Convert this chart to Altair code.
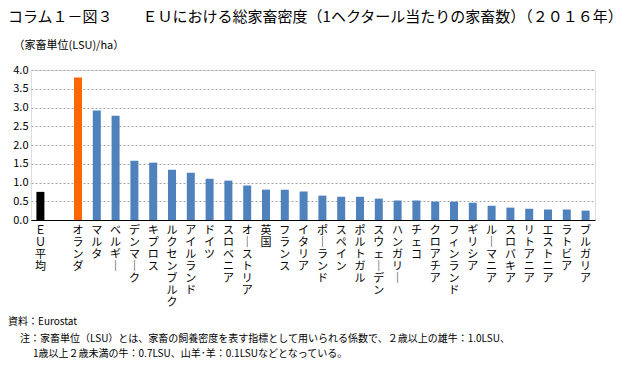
import altair as alt
import pandas as pd

countries = ["ＥＵ平均", " ", "オランダ", "マルタ", "ベルギー", "デンマーク", "キプロス",
             "ルクセンブルク", "アイルランド", "ドイツ", "スロベニア", "オーストリア", "英国",
             "フランス", "イタリア", "ポーランド", "スペイン", "ポルトガル", "スウェーデン",
             "ハンガリー", "チェコ", "クロアチア", "フィンランド", "ギリシア", "ルーマニア",
             "スロバキア", "リトアニア", "エストニア", "ラトビア", "ブルガリア"]
values = [0.75, None, 3.80, 2.92, 2.78, 1.58, 1.53,
          1.34, 1.26, 1.10, 1.05, 0.92, 0.81,
          0.81, 0.76, 0.65, 0.62, 0.62, 0.57,
          0.52, 0.52, 0.49, 0.49, 0.46, 0.38,
          0.33, 0.30, 0.28, 0.28, 0.25]
y_ticks = [0.0, 0.5, 1.0, 1.5, 2.0, 2.5, 3.0, 3.5, 4.0]

title_text = "コラム１－図３　　ＥＵにおける総家畜密度（1ヘクタール当たりの家畜数）（２０１６年）"
y_title = "（家畜単位(LSU)/ha）"
notes = ["資料：Eurostat",
         "注：家畜単位（LSU）とは、家畜の飼養密度を表す指標として用いられる係数で、２歳以上の雄牛：1.0LSU、",
         "1歳以上２歳未満の牛：0.7LSU、山羊･羊：0.1LSUなどとなっている。"]

FONT = "Noto Sans CJK JP"

df = pd.DataFrame({"country": countries, "value": values})

bars = alt.Chart(df).mark_bar(size=8).encode(
    x=alt.X("country:N", sort=countries,
            scale=alt.Scale(paddingInner=0.0, paddingOuter=0.0),
            axis=alt.Axis(title=None, labelAngle=0, ticks=False, domainColor="#000000",
                          domainWidth=1, labelFont=FONT, labelFontSize=11,
                          labelColor="#000000", labelBaseline="top", labelPadding=4,
                          labelLineHeight=12, labelOverlap=False,
                          labelExpr="split(replace(datum.label, regexp('ー','g'), '｜'), '')")),
    y=alt.Y("value:Q", scale=alt.Scale(domain=[0, 4], nice=False),
            axis=alt.Axis(values=y_ticks, format=".1f", title=y_title, titleAngle=0,
                          titleX=-18, titleY=-25, titleAlign="left", titleBaseline="middle",
                          titleFont=FONT, titleFontSize=11, titleFontWeight="normal",
                          titleColor="#000000",
                          labelFont=FONT, labelFontSize=11, labelColor="#000000",
                          labelPadding=3, ticks=False, domain=False,
                          grid=True, gridColor="#A6A6A6", gridDash=[2, 2], gridWidth=1)),
    color=alt.when(alt.datum.country == "ＥＵ平均").then(alt.value("#000000"))
             .when(alt.datum.country == "オランダ").then(alt.value("#FF6600"))
             .otherwise(alt.value("#4F81BD")),
)

title = alt.Chart(pd.DataFrame({"t": [title_text]})).mark_text(
    font=FONT, fontSize=15, align="left", baseline="middle", color="#000000"
).encode(text="t:N", x=alt.value(-23), y=alt.value(-53))

note_layers = []
note_x = [-23, -11, 2]
note_y = [252, 269, 284]
for i in range(3):
    note_layers.append(
        alt.Chart(pd.DataFrame({"t": [notes[i]]})).mark_text(
            font=FONT, fontSize=10, align="left", baseline="middle", color="#000000"
        ).encode(text="t:N", x=alt.value(note_x[i]), y=alt.value(note_y[i]))
    )

chart = alt.layer(bars, title, *note_layers).properties(
    width=564, height=150,
    autosize=alt.AutoSizeParams(type="none"),
    padding={"left": 23, "top": 62, "right": 38, "bottom": 160},
).configure_view(stroke=None).configure(background="#ffffff")

chart.save("out.html", embed_options={"renderer": "svg", "actions": False})
